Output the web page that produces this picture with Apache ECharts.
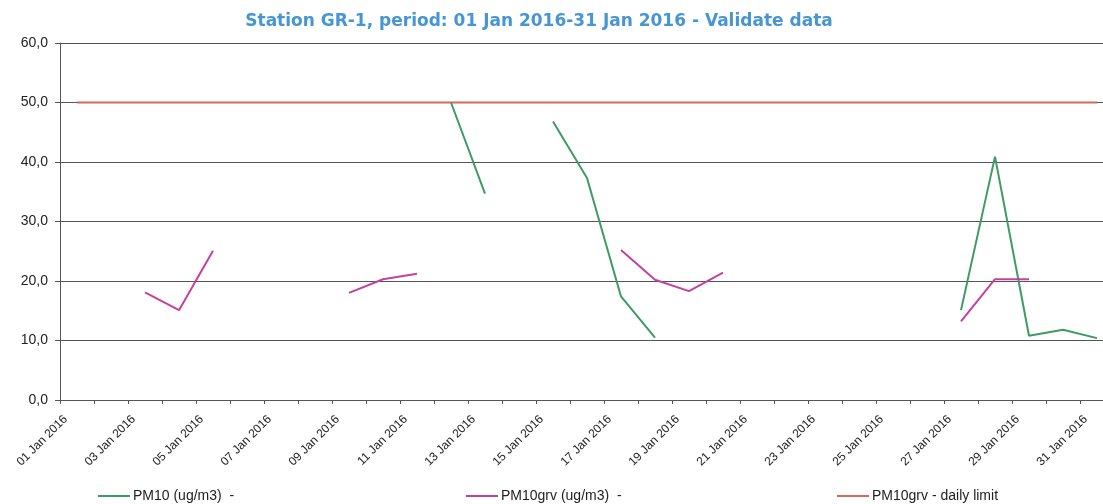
<!DOCTYPE html>
<html>
<head>
<meta charset="utf-8">
<script src="https://cdn.jsdelivr.net/npm/echarts@6/dist/echarts.min.js"></script>
<style>
  html, body { margin: 0; padding: 0; background: #fff; }
  #main { width: 1103px; height: 504px; }
</style>
</head>
<body>
<div id="main"></div>
<script>
var myChart = echarts.init(document.getElementById('main'));

// x axis - one category per day
var days = ['01 Jan 2016', '02 Jan 2016', '03 Jan 2016', '04 Jan 2016', '05 Jan 2016', '06 Jan 2016',
  '07 Jan 2016', '08 Jan 2016', '09 Jan 2016', '10 Jan 2016', '11 Jan 2016', '12 Jan 2016',
  '13 Jan 2016', '14 Jan 2016', '15 Jan 2016', '16 Jan 2016', '17 Jan 2016', '18 Jan 2016',
  '19 Jan 2016', '20 Jan 2016', '21 Jan 2016', '22 Jan 2016', '23 Jan 2016', '24 Jan 2016',
  '25 Jan 2016', '26 Jan 2016', '27 Jan 2016', '28 Jan 2016', '29 Jan 2016', '30 Jan 2016',
  '31 Jan 2016'];

// PM10 (ug/m3)
var pm10 = [null, null, null, null, null, null, null, null, null, null, null,
  50.0, 34.7, null, 46.8, 37.3, 17.4, 10.5,
  null, null, null, null, null, null, null, null,
  15.1, 40.9, 10.8, 11.8, 10.4];

// PM10grv (ug/m3)
var pm10grv = [null, null, 18.1, 15.1, 25.1, null, null, null, 18.0, 20.3, 21.2,
  null, null, null, null, null, 25.2, 20.2, 18.3, 21.4,
  null, null, null, null, null, null, 13.2, 20.3, 20.3, null, null];

// PM10grv - daily limit
var dailyLimit = [50, 50, 50, 50, 50, 50, 50, 50, 50, 50, 50, 50, 50, 50, 50, 50,
  50, 50, 50, 50, 50, 50, 50, 50, 50, 50, 50, 50, 50, 50, 50];

var greenColor = '#3d9b63';
var pinkColor = '#c8409e';
var redColor = '#d8695a';

function legendAt(name, left) {
  return {
    data: [name],
    left: left,
    top: 489,
    padding: 0,
    icon: 'rect',
    itemWidth: 32,
    itemHeight: 2,
    itemGap: 0,
    textStyle: { fontFamily: 'Liberation Sans', fontSize: 14, color: '#222', padding: [0, 0, 0, -2] }
  };
}

var option = {
  backgroundColor: '#fff',
  animation: false,
  title: {
    text: 'Station GR-1, period: 01 Jan 2016-31 Jan 2016 - Validate data',
    left: 534,
    textAlign: 'center',
    top: 8,
    textStyle: {
      fontFamily: 'DejaVu Sans',
      fontWeight: 'bold',
      fontSize: 17,
      color: '#4596d2'
    }
  },
  legend: [
    legendAt('PM10 (ug/m3)  -', 98),
    legendAt('PM10grv (ug/m3)  -', 466),
    legendAt('PM10grv - daily limit', 837)
  ],
  grid: {
    left: 60,
    width: 1054,
    top: 43,
    bottom: 104,
    outerBoundsMode: 'none'
  },
  xAxis: {
    type: 'category',
    data: days,
    boundaryGap: true,
    axisLine: { lineStyle: { color: '#555', width: 1 } },
    axisTick: { show: true, interval: 0, length: 4, lineStyle: { color: '#555' } },
    axisLabel: {
      interval: 1,
      rotate: 45,
      margin: 6,
      padding: [0, 16, 0, 0],
      fontFamily: 'Liberation Sans',
      fontSize: 12,
      color: '#222'
    },
    splitLine: { show: false }
  },
  yAxis: {
    type: 'value',
    min: 0,
    max: 60,
    interval: 10,
    axisLine: { show: true, lineStyle: { color: '#555', width: 1 } },
    axisTick: { show: true, length: 5, lineStyle: { color: '#555' } },
    axisLabel: {
      margin: 12,
      fontFamily: 'Liberation Sans',
      fontSize: 14,
      color: '#222',
      formatter: function (v) { return v.toFixed(1).replace('.', ','); }
    },
    splitLine: { show: true, lineStyle: { color: '#555', width: 1 } }
  },
  series: [
    {
      name: 'PM10 (ug/m3)  -',
      type: 'line',
      data: pm10,
      showSymbol: false,
      symbol: 'none',
      connectNulls: false,
      itemStyle: { color: greenColor },
      lineStyle: { width: 2, color: greenColor },
      z: 3
    },
    {
      name: 'PM10grv (ug/m3)  -',
      type: 'line',
      data: pm10grv,
      showSymbol: false,
      symbol: 'none',
      connectNulls: false,
      itemStyle: { color: pinkColor },
      lineStyle: { width: 2, color: pinkColor },
      z: 4
    },
    {
      name: 'PM10grv - daily limit',
      type: 'line',
      data: dailyLimit,
      showSymbol: false,
      symbol: 'none',
      itemStyle: { color: redColor },
      lineStyle: { width: 2, color: redColor },
      z: 2
    }
  ]
};

myChart.setOption(option);
</script>
</body>
</html>
